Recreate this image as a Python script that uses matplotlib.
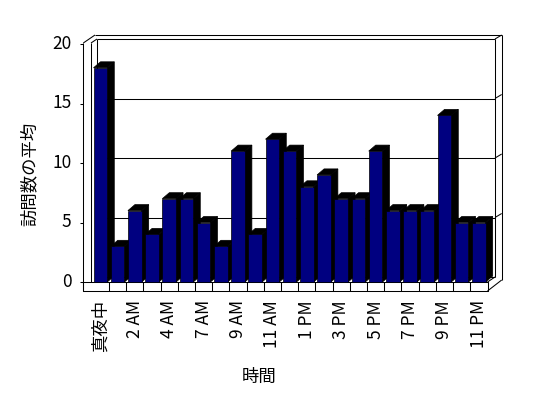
import matplotlib
matplotlib.use("Agg")
import matplotlib.pyplot as plt
from matplotlib.patches import Polygon, Rectangle

plt.rcParams['font.family'] = ['Noto Sans CJK JP', 'DejaVu Sans']

hours = ["真夜中", "1 AM", "2 AM", "3 AM", "4 AM", "6 AM", "7 AM", "8 AM", "9 AM",
         "10 AM", "11 AM", "12 PM", "1 PM", "2 PM", "3 PM", "4 PM", "5 PM",
         "6 PM", "7 PM", "8 PM", "9 PM", "10 PM", "11 PM"]
visits = [18, 3, 6, 4, 7, 7, 5, 3, 11, 4, 12, 11, 8, 9, 7, 7, 11, 6, 6, 6, 14, 5, 5]
yticks = [0, 5, 10, 15, 20]
xlabel = "時間"
ylabel = "訪問数の平均"

W, H = 548, 398
fig = plt.figure(figsize=(W / 100, H / 100), dpi=100)

# pixel mapping of the data space
X0, XS = 100.4, 17.2     # px of category 0 centre, px per category
Y0, YS = 282.0, 11.9     # px of value 0, px per unit
xlim = (-1.0, 23.4)
ylim = (-0.8, 21.2)
left = X0 + XS * xlim[0]
right = X0 + XS * xlim[1]
top = Y0 - YS * ylim[1]
bot = Y0 - YS * ylim[0]
ax = fig.add_axes([left / W, 1 - bot / H, (right - left) / W, (bot - top) / H])
ax.set_xlim(*xlim)
ax.set_ylim(*ylim)
ax.axis('off')

LW = 0.75


def P(px, py):
    return ((px - X0) / XS, (Y0 - py) / YS)


def line(pts, z=1):
    d = [P(*p) for p in pts]
    ax.plot([a for a, b in d], [b for a, b in d], color='black', lw=LW,
            solid_capstyle='butt', clip_on=False, zorder=z)


# walls and floor
WX, WY = 6.0, 5.0
line([(83.3, 43), (83.3, 291)])
line([(91, 43), (91, 282)])
line([(83.3, 43), (95, 35)])
line([(91, 43), (97, 39)])
line([(97, 39), (97, 277)])
line([(95, 35), (501.7, 35)])
line([(97, 39), (495, 39)])
line([(495, 39), (501.7, 35)])
line([(495, 39), (495, 277)])
line([(501.7, 35), (501.7, 280)])
line([(495, 277), (487.5, 282)])
line([(501.7, 280), (487.5, 291)])
line([(97, 277), (495, 277)])
# floor front
line([(83.3, 282), (487.5, 282), (487.5, 291), (83.3, 291), (83.3, 282)])
n = len(visits)
for i in range(n - 1):
    bx = X0 + XS * (i + 0.5)
    line([(bx, 282), (bx, 291)])

# grid lines on back wall + ticks
for v in yticks:
    py = Y0 - YS * v
    if 0 < v < 20:
        line([(97, py - WY), (495, py - WY)])
        line([(495, py - WY), (501.7, py - WY - 4)])
    line([(80.3, py), (83.3, py)])
    ax.text(*P(71.5, py), str(v), ha='right', va='center', fontsize=12.5,
            color='black', clip_on=False)

# bars
bw = 0.4
ddx = 7.0 / XS
ddy = 6.0 / YS
for i, v in enumerate(visits):
    z = 10 + i * 3
    side = Polygon([(i + bw, 0), (i + bw + ddx, ddy), (i + bw + ddx, v + ddy), (i + bw, v)],
                   closed=True, facecolor='black', edgecolor='black', lw=0.5, zorder=z)
    topf = Polygon([(i - bw, v), (i + bw, v), (i + bw + ddx, v + ddy), (i - bw + ddx, v + ddy)],
                   closed=True, facecolor='black', edgecolor='black', lw=0.5, zorder=z + 1)
    front = Rectangle((i - bw, 0), 2 * bw, v, facecolor='#000080', edgecolor='black',
                      lw=0.5, zorder=z + 2)
    ax.add_patch(side)
    ax.add_patch(topf)
    ax.add_patch(front)

# category labels (every other)
for i in range(0, n, 2):
    ax.text(i, (Y0 - 300) / YS, hours[i], rotation=90, ha='center', va='top',
            fontsize=12.5, color='black', clip_on=False)

fig.text(259 / W, 1 - 377 / H, xlabel, ha='center', va='center', fontsize=12.5)
fig.text(30 / W, 1 - 174 / H, ylabel, ha='center', va='center', rotation=90, fontsize=12.5)

fig.savefig("out.png", dpi=100, facecolor='white')
